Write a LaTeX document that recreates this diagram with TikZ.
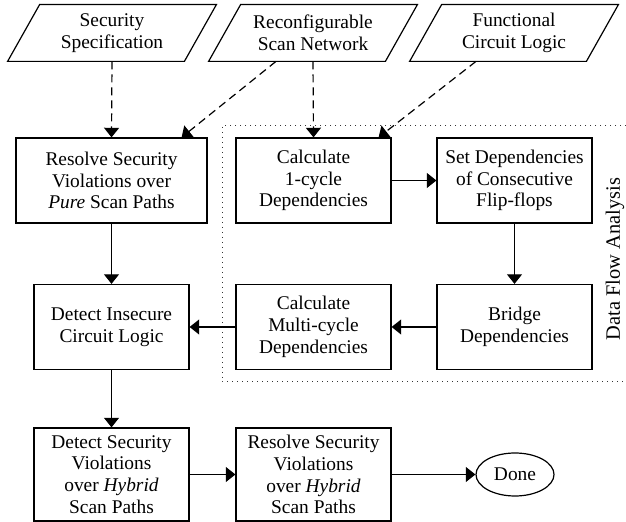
\documentclass[tikz,border=0pt]{standalone}
\usepackage{fontspec}
\setmainfont{Liberation Serif}
\usetikzlibrary{arrows.meta,shapes.geometric}
\begin{document}
\begin{tikzpicture}[x=0.5pt,y=-0.5pt,
  every node/.style={font=\fontsize{9.7}{10.9}\selectfont, inner sep=0pt, align=center},
  procbox/.style={draw, line width=0.6pt, rectangle, minimum width=77.5pt, minimum height=42.5pt},
  tallbox/.style={procbox, minimum height=46.5pt},
  iobox/.style={rectangle, minimum width=88pt, minimum height=28pt},
  flow/.style={line width=0.6pt, -{Triangle[length=4.8pt,width=7.5pt]}},
  dflow/.style={flow, dash pattern=on 4pt off 2.5pt},
  frame/.style={dotted, line width=0.5pt, black!80}
]
\useasboundingbox (0,0) rectangle (626,522);

% inputs
\node[iobox] (ss)  at (112,33) {Security\\Specification};
\node[iobox] (rsn) at (313,33) {Reconfigurable\\Scan Network};
\node[iobox] (fcl) at (514,33) {Functional\\Circuit Logic};
\foreach \n in {ss,rsn,fcl}{
  \draw[line width=0.6pt] ([xshift=-8pt]\n.south west) -- ([xshift=8pt]\n.north west)
     -- ([xshift=8pt]\n.north east) -- ([xshift=-8pt]\n.south east) -- cycle;
}

% data flow frame
\coordinate (fa) at (626,126);
\coordinate (fb) at (222,126);
\coordinate (fc) at (222,382);
\coordinate (fd) at (626,382);
\draw[frame] (fa) -- (fb) -- (fc) -- (fd);
\node[rotate=90, font=\fontsize{10.2}{12}\selectfont] (dfa) at (615,259) {Data Flow Analysis};

% boxes
\node[procbox, minimum width=95.5pt] (rp) at (111.5,180.5) {Resolve Security\\Violations over\\\textit{Pure} Scan Paths};
\node[procbox] (c1) at (313.5,180.5) {Calculate\\1-cycle\\Dependencies};
\node[procbox] (sd) at (514.5,180.5) {Set Dependencies\\of Consecutive\\Flip-flops};
\node[procbox] (dic) at (111.5,327) {Detect Insecure\\Circuit Logic};
\node[procbox] (cm) at (313.5,327) {Calculate\\Multi-cycle\\Dependencies};
\node[procbox] (bd) at (514.5,327) {Bridge\\Dependencies};
\node[tallbox] (dsv) at (111.5,474.5) {Detect Security\\Violations\\over \textit{Hybrid}\\Scan Paths};
\node[tallbox] (rsv) at (313.5,474.5) {Resolve Security\\Violations\\over \textit{Hybrid}\\Scan Paths};
\node[draw, line width=0.6pt, ellipse, minimum width=39pt, minimum height=21.5pt] (done) at (515,474.5) {Done};

% dashed inputs
\draw[dflow] (ss.south) -- (rp.north);
\draw[dflow] ([xshift=-18.5pt]rsn.south) -- ([xshift=-13pt]rp.north east);
\draw[dflow] (rsn.south) -- (c1.north);
\draw[dflow] ([xshift=-19pt]fcl.south) -- ([xshift=-6.5pt]c1.north east);

% solid flow
\draw[flow] (rp) -- (dic);
\draw[flow] (c1) -- (sd);
\draw[flow] (sd) -- (bd);
\draw[flow] (bd) -- (cm);
\draw[flow] (cm) -- (dic);
\draw[flow] (dic) -- (dsv);
\draw[flow] (dsv) -- (rsv);
\draw[flow] (rsv) -- (done);
\end{tikzpicture}
\end{document}
